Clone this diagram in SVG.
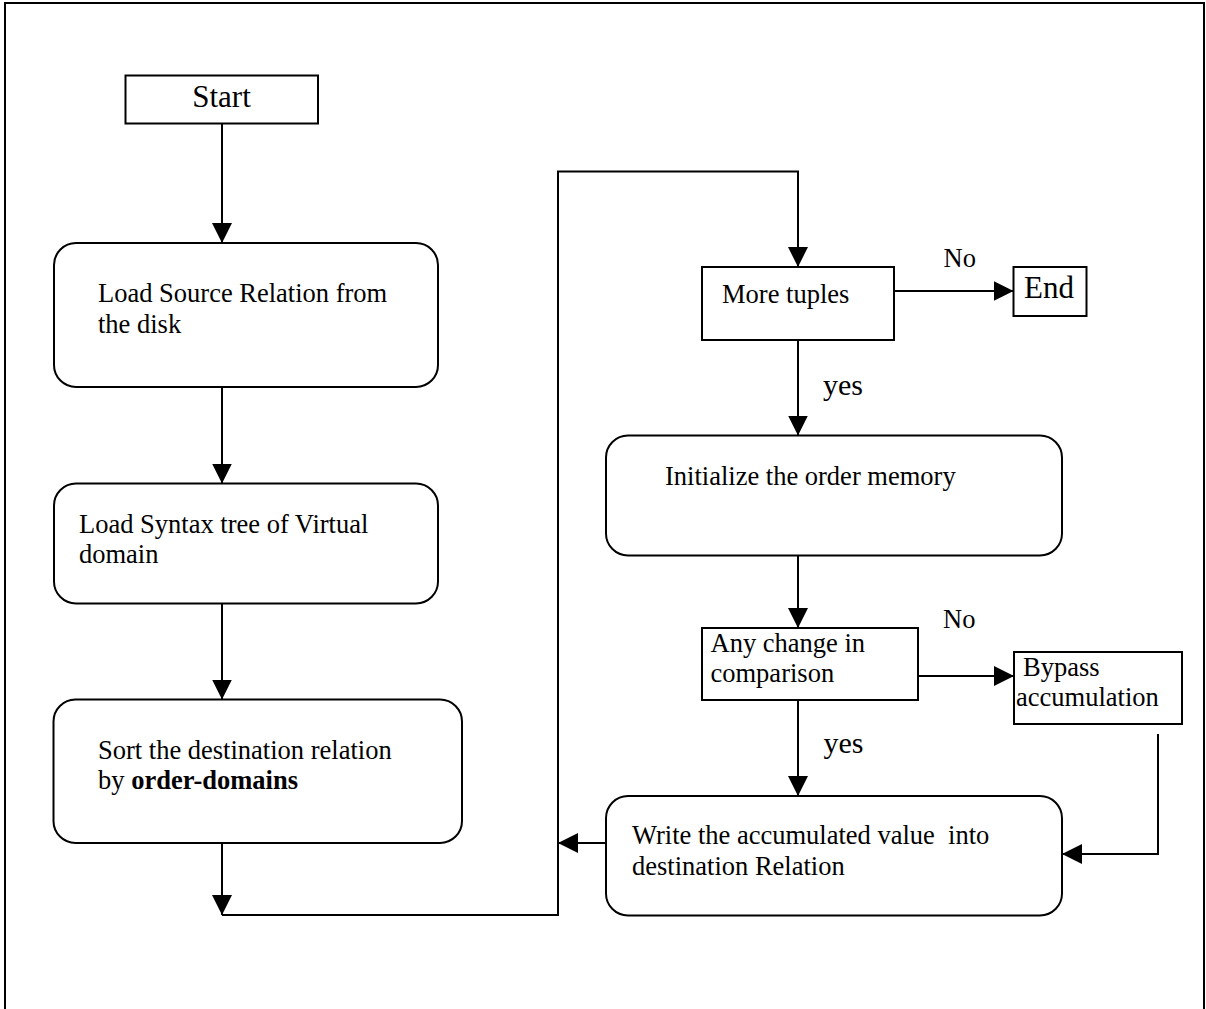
<svg xmlns="http://www.w3.org/2000/svg" width="1206" height="1009" viewBox="0 0 1206 1009">
  <style>
    .box { fill: #ffffff; stroke: #000000; stroke-width: 2; }
    .edge { fill: none; stroke: #000000; stroke-width: 2; }
    .t { font-family: "Liberation Serif", "Times New Roman", serif; font-size: 26.5px; fill: #000000; }
    .big { font-size: 31px; }
    .yes { font-size: 30px; }
    .b { font-weight: bold; }
  </style>
  <defs>
    <marker id="arrow" markerUnits="userSpaceOnUse" markerWidth="20" markerHeight="20" refX="20" refY="10" orient="auto">
      <path d="M0,0 L20,10 L0,20 Z" fill="#000000"/>
    </marker>
  </defs>

  <rect width="1206" height="1009" fill="#ffffff"/>
  <!-- page frame -->
  <path class="edge" d="M5,1012 V3 H1204 V1012"/>

  <g id="start">
    <rect class="box" x="125.5" y="75.5" width="192.5" height="48"/>
    <text class="t big" x="221.5" y="106.5" text-anchor="middle">Start</text>
  </g>

  <g id="load-source">
    <rect class="box" x="54" y="243" width="384" height="144" rx="22" ry="22"/>
    <text class="t" x="98" y="301.5">Load Source Relation from</text>
    <text class="t" x="98" y="332.5">the disk</text>
  </g>

  <g id="load-syntax">
    <rect class="box" x="54" y="483.5" width="384" height="120" rx="22" ry="22"/>
    <text class="t" x="79" y="533">Load Syntax tree of Virtual</text>
    <text class="t" x="79" y="563">domain</text>
  </g>

  <g id="sort">
    <rect class="box" x="53.5" y="699.5" width="408.5" height="143.5" rx="22" ry="22"/>
    <text class="t" x="98" y="759">Sort the destination relation</text>
    <text class="t" x="98" y="789">by <tspan class="b">order-domains</tspan></text>
  </g>

  <g id="more-tuples">
    <rect class="box" x="702" y="267" width="192" height="73"/>
    <text class="t" x="722" y="302.5">More tuples</text>
  </g>

  <g id="end">
    <rect class="box" x="1013.5" y="267" width="73" height="49"/>
    <text class="t big" x="1024" y="298">End</text>
  </g>

  <g id="init-order">
    <rect class="box" x="606" y="435.5" width="456" height="120" rx="22" ry="22"/>
    <text class="t" x="665" y="485">Initialize the order memory</text>
  </g>

  <g id="any-change">
    <rect class="box" x="702" y="628" width="216" height="72"/>
    <text class="t" x="710.5" y="651.5">Any change in</text>
    <text class="t" x="710.5" y="681.5">comparison</text>
  </g>

  <g id="bypass">
    <rect class="box" x="1014" y="652" width="168" height="72"/>
    <text class="t" x="1023" y="676">Bypass</text>
    <text class="t" x="1016" y="706">accumulation</text>
  </g>

  <g id="write-value">
    <rect class="box" x="606" y="796" width="456" height="119.5" rx="22" ry="22"/>
    <text class="t" x="632" y="844" xml:space="preserve">Write the accumulated value  into</text>
    <text class="t" x="632" y="875">destination Relation</text>
  </g>

  <g id="connectors">
    <path class="edge" d="M222,124 V243" marker-end="url(#arrow)"/>
    <path class="edge" d="M222,387 V483.5" marker-end="url(#arrow)"/>
    <path class="edge" d="M222,603.5 V699.5" marker-end="url(#arrow)"/>
    <path class="edge" d="M222,843 V915" marker-end="url(#arrow)"/>
    <path class="edge" d="M222,915 H558 V171.5 H798 V267" marker-end="url(#arrow)"/>
    <path class="edge" d="M894,291 H1013.5" marker-end="url(#arrow)"/>
    <path class="edge" d="M798,340 V435.5" marker-end="url(#arrow)"/>
    <path class="edge" d="M798,555.5 V628" marker-end="url(#arrow)"/>
    <path class="edge" d="M918,676 H1014" marker-end="url(#arrow)"/>
    <path class="edge" d="M798,700 V796" marker-end="url(#arrow)"/>
    <path class="edge" d="M1158,734 V854 H1062" marker-end="url(#arrow)"/>
    <path class="edge" d="M606,843 H558" marker-end="url(#arrow)"/>
    <text class="t" x="943.5" y="267">No</text>
    <text class="t yes" x="823" y="395">yes</text>
    <text class="t" x="943" y="628">No</text>
    <text class="t yes" x="823.5" y="753">yes</text>
  </g>
</svg>
